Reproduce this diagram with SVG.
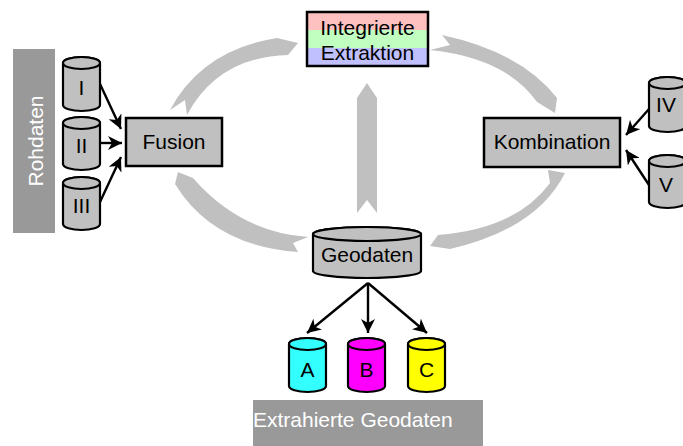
<svg xmlns="http://www.w3.org/2000/svg" width="683" height="446" viewBox="0 0 683 446">
<defs>
<style>
text{font-family:"Liberation Sans",Arial,sans-serif;font-size:21px;fill:#000}
.lbl{text-anchor:middle}
.band{fill:#999999}
.wt{fill:#ffffff}
.box{fill:#c0c0c0;stroke:#000;stroke-width:2.5}
.cyl{fill:#c0c0c0;stroke:#000;stroke-width:2.2}
.cyan{fill:#33ffff}
.mag{fill:#ff00ff}
.yel{fill:#ffff00}
.flow{fill:#c0c0c0;stroke:none}
.ln{stroke:#000;stroke-width:2.4;fill:none;marker-end:url(#ah)}
</style>
<marker id="ah" markerUnits="userSpaceOnUse" markerWidth="16" markerHeight="14" refX="14" refY="7" orient="auto">
<path d="M0,0 L14,7 L0,14 L4,7 Z" fill="#000"/>
</marker>
</defs>
<rect width="683" height="446" fill="#ffffff"/>

<g id="connectors">
<path class="flow" d="M170,110 Q202,50 277,38 L298,43 L288,55 Q218,57 187,115 L185,100 Z"/>
<path class="flow" d="M442,35 L450,45 L430,50 Q506,58 537,102 L555,113 L557,98 Q521,52 442,35 Z"/>
<path class="flow" d="M178,172 L193,178 Q240,232 308,237 L293,243 L298,252 Q213,246 175,184 Z"/>
<path class="flow" d="M548,170 L550,183 Q516,229 438,235 L430,246 L450,249 Q537,229 565,173 Z"/>
<polygon class="flow" points="357,98 367,83 377,98 377,213 367,200 357,213"/>
<line class="ln" x1="100" y1="84" x2="121" y2="129"/>
<line class="ln" x1="100" y1="143" x2="122" y2="143"/>
<line class="ln" x1="100" y1="202" x2="121" y2="157"/>
<line class="ln" x1="649" y1="109" x2="626" y2="135"/>
<line class="ln" x1="649" y1="185" x2="626" y2="150"/>
<line class="ln" x1="368" y1="283" x2="307" y2="333"/>
<line class="ln" x1="368" y1="283" x2="368" y2="333"/>
<line class="ln" x1="368" y1="283" x2="427" y2="333"/>
</g>

<g id="rohdaten">
<rect class="band" x="13" y="49" width="42" height="184"/>
<text class="lbl wt" transform="translate(43,141) rotate(-90)">Rohdaten</text>
</g>

<g id="cyl-I">
<path class="cyl" d="M63,63 L63,105 A18.5,6 0 0 0 100,105 L100,63 A18.5,6 0 0 0 63,63 Z"/>
<ellipse class="cyl" cx="81.5" cy="63" rx="18.5" ry="6"/>
<text class="lbl" x="81.5" y="95">I</text>
</g>
<g id="cyl-II">
<path class="cyl" d="M63,123 L63,164 A18.5,6 0 0 0 100,164 L100,123 A18.5,6 0 0 0 63,123 Z"/>
<ellipse class="cyl" cx="81.5" cy="123" rx="18.5" ry="6"/>
<text class="lbl" x="81.5" y="153">II</text>
</g>
<g id="cyl-III">
<path class="cyl" d="M63,183 L63,224 A18.5,6 0 0 0 100,224 L100,183 A18.5,6 0 0 0 63,183 Z"/>
<ellipse class="cyl" cx="81.5" cy="183" rx="18.5" ry="6"/>
<text class="lbl" x="81.5" y="213">III</text>
</g>

<g id="fusion">
<rect class="box" x="126" y="118" width="96" height="48"/>
<text class="lbl" x="174" y="149">Fusion</text>
</g>

<g id="integrierte-extraktion">
<rect x="307" y="12" width="121" height="18" fill="#ffc0c0"/>
<rect x="307" y="30" width="121" height="18" fill="#c0ffc0"/>
<rect x="307" y="48" width="121" height="18" fill="#c0c0ff"/>
<rect x="307" y="12" width="121" height="54" fill="none" stroke="#000" stroke-width="2.5"/>
<text class="lbl" x="367.5" y="35">Integrierte</text>
<text class="lbl" x="367.5" y="60">Extraktion</text>
</g>

<g id="kombination">
<rect class="box" x="484" y="118" width="136" height="49"/>
<text class="lbl" x="552" y="149">Kombination</text>
</g>

<g id="cyl-IV">
<path class="cyl" d="M649,83 L649,126 A18.5,6 0 0 0 686,126 L686,83 A18.5,6 0 0 0 649,83 Z"/>
<ellipse class="cyl" cx="667.5" cy="83" rx="18.5" ry="6"/>
<text class="lbl" x="666" y="112">IV</text>
</g>
<g id="cyl-V">
<path class="cyl" d="M649,161 L649,202 A18.5,6 0 0 0 686,202 L686,161 A18.5,6 0 0 0 649,161 Z"/>
<ellipse class="cyl" cx="667.5" cy="161" rx="18.5" ry="6"/>
<text class="lbl" x="666" y="192">V</text>
</g>

<g id="geodaten">
<path class="cyl" d="M313,234 L313,271 A54,7 0 0 0 421,271 L421,234 A54,7 0 0 0 313,234 Z"/>
<ellipse class="cyl" cx="367" cy="234" rx="54" ry="7"/>
<text class="lbl" x="367" y="262">Geodaten</text>
</g>

<g id="cyl-A">
<path class="cyl cyan" d="M289,344 L289,386 A18.5,6 0 0 0 326,386 L326,344 A18.5,6 0 0 0 289,344 Z"/>
<ellipse class="cyl cyan" cx="307.5" cy="344" rx="18.5" ry="6"/>
<text class="lbl" x="307.5" y="377">A</text>
</g>
<g id="cyl-B">
<path class="cyl mag" d="M348,344 L348,386 A18.5,6 0 0 0 385,386 L385,344 A18.5,6 0 0 0 348,344 Z"/>
<ellipse class="cyl mag" cx="366.5" cy="344" rx="18.5" ry="6"/>
<text class="lbl" x="366.5" y="377">B</text>
</g>
<g id="cyl-C">
<path class="cyl yel" d="M408,344 L408,386 A18.5,6 0 0 0 445,386 L445,344 A18.5,6 0 0 0 408,344 Z"/>
<ellipse class="cyl yel" cx="426.5" cy="344" rx="18.5" ry="6"/>
<text class="lbl" x="426.5" y="377">C</text>
</g>

<g id="extrahierte-geodaten">
<rect class="band" x="253" y="400" width="230" height="46"/>
<text class="wt" x="253" y="427">Extrahierte Geodaten</text>
</g>
</svg>
